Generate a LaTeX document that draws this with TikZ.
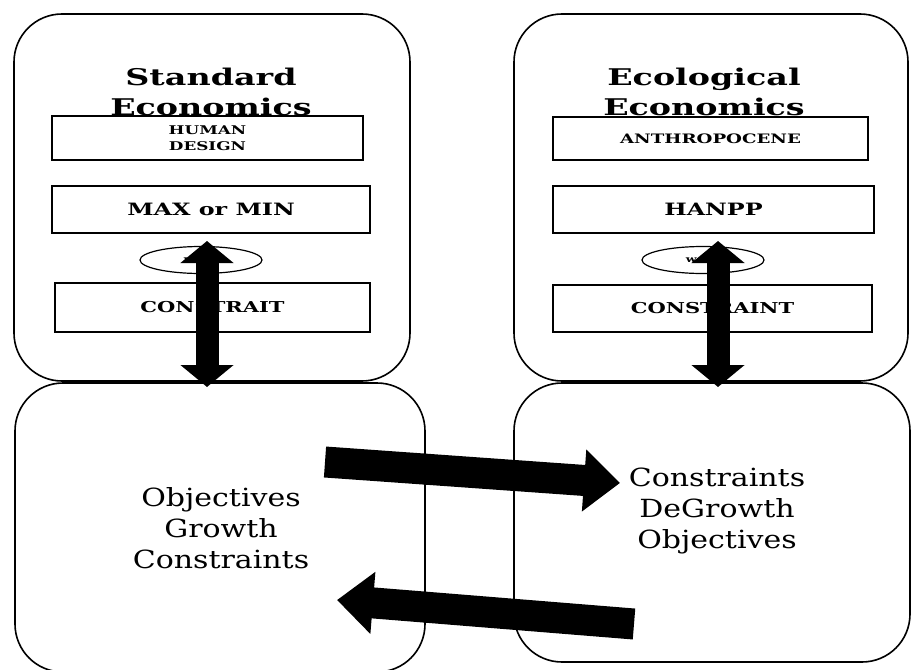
\documentclass[tikz,border=0pt]{standalone}
\usepackage{fontspec}
\setmainfont{DejaVu Serif}[FakeStretch=1.2]
\newfontfamily\headfont{DejaVu Serif}[FakeStretch=1.45]
\newfontfamily\slotfont{DejaVu Serif}[FakeStretch=1.4]
\usetikzlibrary{arrows.meta}
\usetikzlibrary{shapes.geometric}

\tikzset{
  panel/.style={draw, line width=1.6pt, rounded corners=48pt, fill=white, inner sep=0pt},
  slot/.style={draw, line width=1.6pt, inner sep=0pt, align=center},
  loop/.style={draw, ellipse, line width=1.2pt, inner sep=0pt, font=\slotfont\bfseries\fontsize{9}{10}\selectfont},
  updown/.style={line width=23pt, {Triangle[width=52pt,length=22pt]}-{Triangle[width=52pt,length=22pt]}},
  swap/.style={line width=31pt, -{Triangle[width=60pt,length=36pt]}}
}

\begin{document}
\begin{tikzpicture}[x=1pt,y=-1pt]

    \clip (0,0) rectangle (912,669);
    \useasboundingbox (0,0) rectangle (912,669);

    % the four panels
    \node[panel, minimum width=396pt, minimum height=367pt] (stdTop) at (212,197.5) {};
    \node[panel, minimum width=394pt, minimum height=367pt] (ecoTop) at (711,197.5) {};
    \node[panel, minimum width=410pt, minimum height=289pt] (stdLow) at (220,527.5) {};
    \node[panel, minimum width=396pt, minimum height=279pt] (ecoLow) at (712,522.5) {};

    % titles
    \node[font=\headfont\bfseries\fontsize{23}{30}\selectfont, align=center] (stdTitle) at (211,92) {Standard\\Economics};
    \node[font=\headfont\bfseries\fontsize{23}{30}\selectfont, align=center] (ecoTitle) at (704,92) {Ecological\\Economics};

    % standard side
    \node[slot, minimum width=311pt, minimum height=44pt, font=\slotfont\bfseries\fontsize{12}{16}\selectfont] (design) at (207.5,138) {HUMAN\\DESIGN};
    \node[slot, minimum width=318pt, minimum height=47pt, font=\slotfont\bfseries\fontsize{17}{20}\selectfont] (maxmin) at (211,209.5) {MAX or MIN};
    \node[loop, minimum width=122pt, minimum height=27pt] (wrtL) at (201,260) {\raisebox{2pt}{w.r.t.}\hspace{24pt}};
    \node[slot, minimum width=315pt, minimum height=49pt, font=\slotfont\bfseries\fontsize{15}{18}\selectfont] (constrait) at (212.5,307.5) {CONSTRAIT};

    % ecological side
    \node[slot, minimum width=315pt, minimum height=43pt, font=\slotfont\bfseries\fontsize{13}{16}\selectfont] (anthro) at (710.5,138.5) {ANTHROPOCENE};
    \node[slot, minimum width=321pt, minimum height=47pt, font=\slotfont\bfseries\fontsize{17}{20}\selectfont] (hanpp) at (713.5,209.5) {HANPP};
    \node[loop, minimum width=122pt, minimum height=27pt] (wrtR) at (703,260) {\raisebox{2pt}{w.r.t.}\hspace{22pt}};
    \node[slot, minimum width=319pt, minimum height=47pt, font=\slotfont\bfseries\fontsize{15}{18}\selectfont] (constraint) at (712.5,308.5) {CONSTRAINT};

    % lower texts
    \node[font=\fontsize{25}{31}\selectfont, align=center] (stdList) at (221,528) {Objectives\\Growth\\Constraints};
    \node[font=\fontsize{25}{31}\selectfont, align=center] (ecoList) at (717,511) {Constraints\\DeGrowth\\Objectives};

    % ends of the arrows
    \coordinate (lTop) at (207,241);
    \coordinate (lBot) at (207,387);
    \coordinate (rTop) at (718,241);
    \coordinate (rBot) at (718,387);
    \coordinate (goFrom) at (325,462);
    \coordinate (goTo) at (620,483);
    \coordinate (backFrom) at (634,624);
    \coordinate (backTo) at (337,600);

    \draw[updown] (lTop) -- (lBot);
    \draw[updown] (rTop) -- (rBot);
    \draw[swap] (goFrom) -- (goTo);
    \draw[swap] (backFrom) -- (backTo);
  \end{tikzpicture}
\end{document}
